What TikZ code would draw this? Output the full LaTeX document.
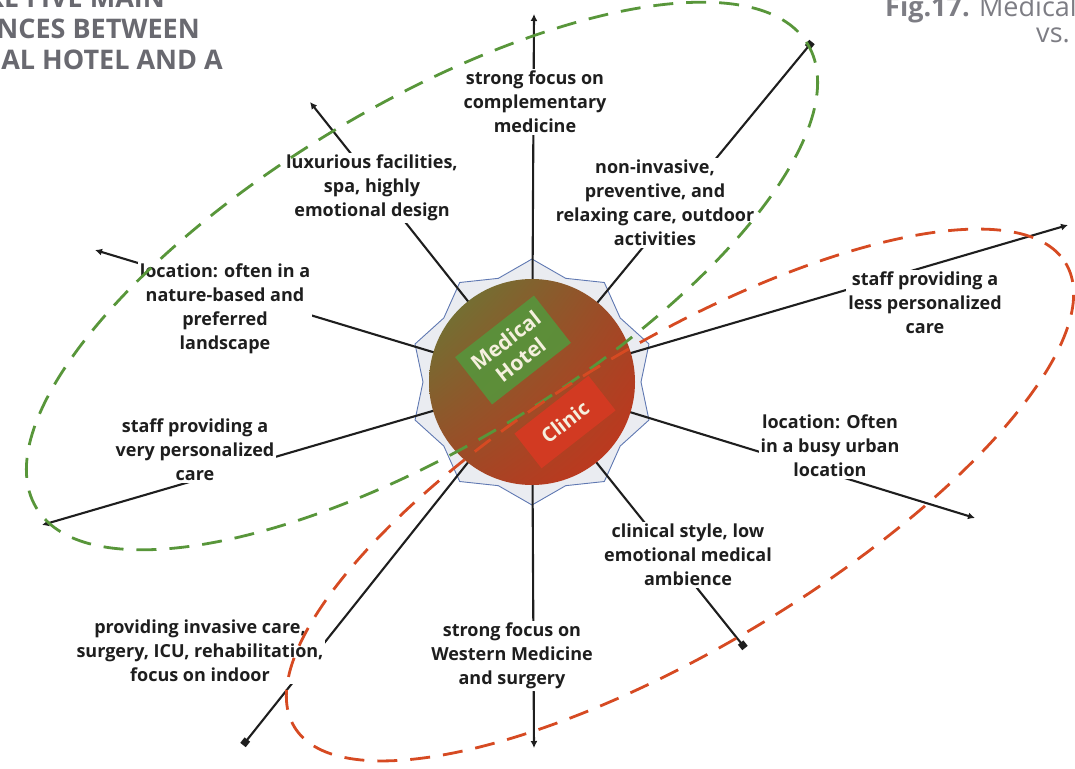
\documentclass[tikz,border=0pt]{standalone}
\usepackage{fontspec}
\setmainfont{Open Sans}
\usetikzlibrary{calc,arrows.meta,shadings}
\definecolor{hgreen}{RGB}{88,150,58}
\definecolor{cred}{RGB}{214,74,34}
\definecolor{starblue}{RGB}{95,120,178}
\definecolor{stargray}{RGB}{234,236,241}
\definecolor{titlegray}{RGB}{105,105,112}
\definecolor{figgray}{RGB}{125,125,132}
\definecolor{circgreen}{RGB}{100,125,55}
\definecolor{circbrown}{RGB}{158,72,38}
\definecolor{circred}{RGB}{200,50,28}
\definecolor{boxgreen}{RGB}{86,150,60}
\definecolor{boxred}{RGB}{210,58,34}
\definecolor{boxtext}{RGB}{245,240,222}
\definecolor{ink}{RGB}{30,30,30}
\begin{document}
\begin{tikzpicture}[x=1pt,y=-1pt,
  lbl/.style={fill=white, inner sep=2pt, align=center, text=ink,
    font=\bfseries\fontsize{18}{24}\selectfont},
  spoke/.style={line width=2.1pt, draw=ink},
  sqend/.style={-{Square[length=7pt,width=7pt]}},
  arend/.style={-{Latex[length=7pt,width=7pt]}},
  ring/.style={line width=2.8pt, dash pattern=on 20pt off 13pt},
  inbox/.style={rotate=38, text=boxtext, align=center},
  title/.style={text=titlegray, font=\bfseries\fontsize{27}{31}\selectfont, inner sep=0pt},
  fig/.style={inner sep=0pt, text=figgray, font=\fontsize{27}{31}\selectfont}
]
\clip (0,0) rectangle (1075,768);
\coordinate (c) at (532,382);

% star points
\foreach \k in {0,...,9}{
  \pgfmathtruncatemacro{\a}{2*\k}
  \pgfmathtruncatemacro{\b}{2*\k+1}
  \coordinate (s\a) at ($(c)+({90+36*\k}:123)$);
  \coordinate (s\b) at ($(c)+({108+36*\k}:109)$);
}
\filldraw[fill=stargray, draw=starblue, line width=0.9pt]
  (s0) -- (s1) -- (s2) -- (s3) -- (s4) -- (s5) -- (s6) -- (s7) -- (s8) -- (s9)
  -- (s10) -- (s11) -- (s12) -- (s13) -- (s14) -- (s15) -- (s16) -- (s17) -- (s18) -- (s19) -- cycle;

% spoke ends
\coordinate (e1) at (534,14);
\coordinate (e2) at (812,42);
\coordinate (e3) at (1068,225);
\coordinate (e4) at (975,518);
\coordinate (e5) at (745,648);
\coordinate (e6) at (534,748);
\coordinate (e7) at (243,745);
\coordinate (e8) at (42,525);
\coordinate (e9) at (95,250);
\coordinate (e10) at (310,102);

\draw[spoke, arend] (c) -- (e1);
\draw[spoke, sqend] (c) -- (e2);
\draw[spoke, arend] (c) -- (e3);
\draw[spoke, arend] (c) -- (e4);
\draw[spoke, sqend] (c) -- (e5);
\draw[spoke, arend] (c) -- (e6);
\draw[spoke, sqend] (c) -- (e7);
\draw[spoke, arend] (c) -- (e8);
\draw[spoke, arend] (c) -- (e9);
\draw[spoke, arend] (c) -- (e10);

% central ball
\node[circle, minimum size=206pt, inner sep=0pt, shade,
  upper left=circgreen, upper right=circbrown, lower left=circbrown, lower right=circred] (ball) at (c) {};
\node[inbox, fill=boxgreen, fill opacity=0.88, text opacity=1, minimum width=100pt, minimum height=60pt,
  font=\bfseries\fontsize{21}{24}\selectfont] (mh) at (513,350) {Medical\\Hotel};
\node[inbox, fill=boxred, minimum width=94pt, minimum height=44pt,
  font=\bfseries\fontsize{20}{24}\selectfont] (cl) at (565,422) {Clinic};

% labels
\node[lbl] (t1) at (535,102) {strong focus on\\complementary\\medicine};
\node[lbl] (t2) at (372,188) {luxurious facilities,\\spa, highly\\emotional design};
\node[lbl] (t3) at (655,203) {non-invasive,\\preventive, and\\relaxing care, outdoor\\activities};
\node[lbl] (t4) at (225,309) {location: often in a\\nature-based and\\preferred\\landscape};
\node[lbl] (t5) at (195,450) {staff providing a\\very personalized\\care};
\node[lbl] (t6) at (925,303) {staff providing a\\less personalized\\care};
\node[lbl] (t7) at (830,446) {location: Often\\in a busy urban\\location};
\node[lbl] (t8) at (688,555) {clinical style, low\\emotional medical\\ambience};
\node[lbl] (t9) at (512,656) {strong focus on\\Western Medicine\\and surgery};
\node[lbl] (t10) at (200,651) {providing invasive care,\\surgery, ICU, rehabilitation,\\focus on indoor};

% dashed rings
\draw[ring, draw=hgreen, rotate around={31:(422,276)}] (422,276) ellipse [x radius=450, y radius=170];
\draw[ring, draw=cred, rotate around={31:(680,495)}] (680,495) ellipse [x radius=450, y radius=152];

% page titles
\node[title, anchor=base east] (h1) at (165,8) {RE FIVE MAIN};
\node[title, anchor=base east] (h2) at (200,39) {NCES BETWEEN};
\node[title, anchor=base east] (h3) at (223,70) {AL HOTEL AND A};
\node[fig, anchor=base west] (f1) at (885,17) {\textbf{Fig.17.} Medical Hotel};
\node[fig, anchor=base east] (f2) at (1070,42) {vs.};
\end{tikzpicture}
\end{document}
